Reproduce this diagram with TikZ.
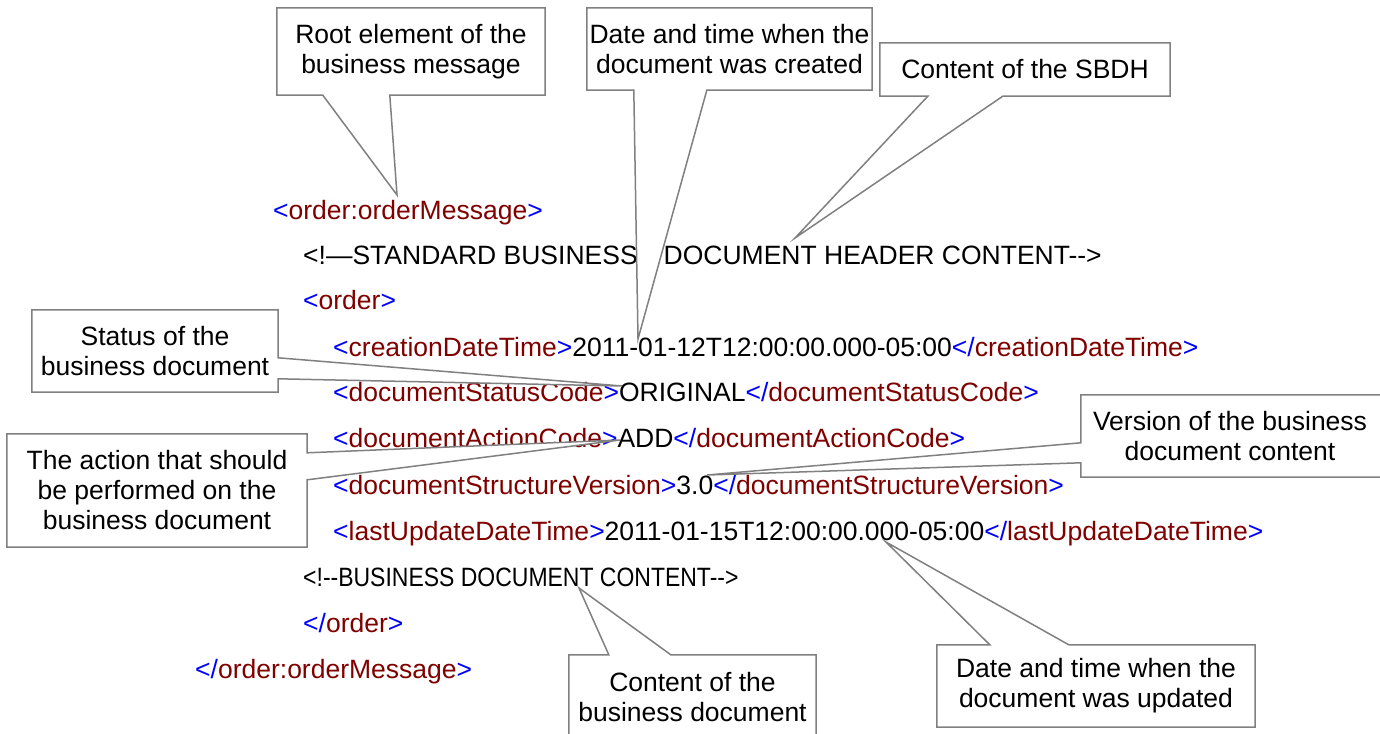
\documentclass[tikz,border=0pt]{standalone}
\usepackage{fontspec}
\usepackage{graphicx}
\setmainfont{Liberation Sans}[Ligatures=TeXOff]
\usetikzlibrary{calc}
\definecolor{tagblue}{RGB}{0,0,255}
\definecolor{tagred}{RGB}{128,0,0}
\definecolor{callgray}{RGB}{128,128,128}
\newcommand{\xmlopen}[1]{\textcolor{tagblue}{<}\textcolor{tagred}{#1}\textcolor{tagblue}{>}}
\newcommand{\xmlclose}[1]{\textcolor{tagblue}{</}\textcolor{tagred}{#1}\textcolor{tagblue}{>}}
\begin{document}
\begin{tikzpicture}[x=1pt,y=-1pt,
  xml/.style={anchor=base west, inner sep=0pt, font=\fontsize{26.5}{30}\selectfont},
  calltext/.style={align=center, inner sep=0pt, font=\fontsize{26.5}{30}\selectfont},
  callout/.style={draw=callgray, line width=1.5pt, fill=white, line join=miter}]
\useasboundingbox (0,0) rectangle (1380,733);
\fill[white] (0,0) rectangle (1380,733);

% XML text
\node[xml] (l1) at (273,219) {\xmlopen{order:orderMessage}};
\node[xml] (l2) at (303,264) {<!—STANDARD BUSINESS\hspace{26pt}DOCUMENT HEADER CONTENT-->};
\node[xml] (l3) at (303,309) {\xmlopen{order}};
\node[xml] (l4) at (333,356) {\xmlopen{creationDateTime}2011-01-12T12:00:00.000-05:00\xmlclose{creationDateTime}};
\node[xml] (l5) at (333,401) {\xmlopen{documentStatusCode}ORIGINAL\xmlclose{documentStatusCode}};
\node[xml] (l6) at (333,447) {\xmlopen{documentActionCode}ADD\xmlclose{documentActionCode}};
\node[xml] (l7) at (333,494) {\xmlopen{documentStructureVersion}3.0\xmlclose{documentStructureVersion}};
\node[xml] (l8) at (333,540) {\xmlopen{lastUpdateDateTime}2011-01-15T12:00:00.000-05:00\xmlclose{lastUpdateDateTime}};
\node[xml] (l9) at (303,586) {\scalebox{0.867}[1]{<!--BUSINESS DOCUMENT CONTENT-->}};
\node[xml] (l10) at (303,632) {\xmlclose{order}};
\node[xml] (l11) at (195,678) {\xmlclose{order:orderMessage}};

% tips
\coordinate (tA) at (397,195);
\coordinate (tB) at (638,339);
\coordinate (tC) at (795,238);
\coordinate (tD) at (622,386);
\coordinate (tE) at (620,440);
\coordinate (tF) at (707,475);
\coordinate (tG) at (886,542);
\coordinate (tH) at (579,588);

% callout boxes (invisible nodes defining the frames)
\node[minimum width=268pt, minimum height=87pt, inner sep=0pt] (A) at (411,51.5) {};
\node[minimum width=285pt, minimum height=82pt, inner sep=0pt] (B) at (729.5,49) {};
\node[minimum width=290pt, minimum height=53pt, inner sep=0pt] (C) at (1025,69.5) {};
\node[minimum width=246pt, minimum height=82pt, inner sep=0pt] (D) at (155,351) {};
\node[minimum width=300pt, minimum height=113pt, inner sep=0pt] (E) at (157,490.5) {};
\node[minimum width=310pt, minimum height=82pt, inner sep=0pt] (F) at (1236,436) {};
\node[minimum width=318pt, minimum height=82pt, inner sep=0pt] (G) at (1096,686) {};
\node[minimum width=247pt, minimum height=84pt, inner sep=0pt] (H) at (692.5,697) {};

% frames
\draw[callout] (A.north west) -- (A.north east) -- (A.south east) -- ($(A.south west)+(113,0)$) -- (tA) -- ($(A.south west)+(46,0)$) -- (A.south west) -- cycle;
\draw[callout] (B.north west) -- (B.north east) -- (B.south east) -- ($(B.south west)+(120,0)$) -- (tB) -- ($(B.south west)+(47,0)$) -- (B.south west) -- cycle;
\draw[callout] (C.north west) -- (C.north east) -- (C.south east) -- ($(C.south west)+(123,0)$) -- (tC) -- ($(C.south west)+(48,0)$) -- (C.south west) -- cycle;
\draw[callout] (D.north west) -- (D.north east) -- ($(D.north east)+(0,48)$) -- (tD) -- ($(D.north east)+(0,69)$) -- (D.south east) -- (D.south west) -- cycle;
\draw[callout] (E.north west) -- (E.north east) -- ($(E.north east)+(0,19)$) -- (tE) -- ($(E.north east)+(0,46)$) -- (E.south east) -- (E.south west) -- cycle;
\draw[callout] (F.north west) -- (F.north east) -- (F.south east) -- (F.south west) -- ($(F.north west)+(0,68)$) -- (tF) -- ($(F.north west)+(0,48)$) -- cycle;
\draw[callout] (G.north west) -- ($(G.north west)+(53,0)$) -- (tG) -- ($(G.north west)+(132,0)$) -- (G.north east) -- (G.south east) -- (G.south west) -- cycle;
\draw[callout] (H.north west) -- ($(H.north west)+(40,0)$) -- (tH) -- ($(H.north west)+(102,0)$) -- (H.north east) -- (H.south east) -- (H.south west) -- cycle;

% callout texts
\node[calltext] (a) at (A) {Root element of the\\business message};
\node[calltext] (b) at (B) {Date and time when the\\document was created};
\node[calltext] (c) at (C) {Content of the SBDH};
\node[calltext] (d) at (D) {Status of the\\business document};
\node[calltext] (e) at (E) {The action that should\\be performed on the\\business document};
\node[calltext] (f) at (1230,436) {Version of the business\\document content};
\node[calltext] (g) at (G) {Date and time when the\\document was updated};
\node[calltext] (h) at (H) {Content of the\\business document};
\end{tikzpicture}
\end{document}
